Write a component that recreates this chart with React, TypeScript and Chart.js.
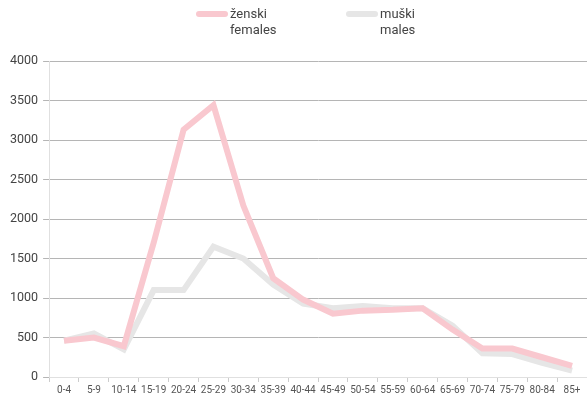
import React, { useEffect, useRef } from "react";
import { Chart, registerables } from "chart.js";

Chart.register(...registerables);

const categories = ["0-4","5-9","10-14","15-19","20-24","25-29","30-34","35-39","40-44","45-49","50-54","55-59","60-64","65-69","70-74","75-79","80-84","85+"];
const females = [460, 500, 390, 1700, 3130, 3440, 2170, 1250, 980, 800, 840, 850, 870, 600, 360, 360, 250, 140];
const males = [460, 550, 350, 1100, 1100, 1650, 1500, 1170, 930, 870, 900, 870, 870, 650, 300, 290, 180, 80];
const yTicks = [0, 500, 1000, 1500, 2000, 2500, 3000, 3500, 4000];
const legendFemale = ["ženski", "females"];
const legendMale = ["muški", "males"];

const PINK = "#f9c8cf";
const GREY = "#e6e6e6";
const FONT = "Roboto, 'Open Sans', sans-serif";

function LegendItem({ color, lines, left }: { color: string; lines: string[]; left: number }) {
  return (
    <div style={{ position: "absolute", left, top: 6, display: "flex", alignItems: "flex-start" }}>
      <div style={{ width: 32, height: 6, borderRadius: 3, background: color, marginTop: 5, marginRight: 2 }} />
      <div style={{ fontFamily: FONT, fontSize: 13, lineHeight: "16px", color: "#444" }}>
        {lines.map((l, i) => (
          <div key={i}>{l}</div>
        ))}
      </div>
    </div>
  );
}

export default function App() {
  const ref = useRef<HTMLCanvasElement | null>(null);
  useEffect(() => {
    document.body.style.margin = "0";
    const ctx = ref.current!.getContext("2d")!;
    const chart = new Chart(ctx, {
      type: "line",
      data: {
        labels: categories,
        datasets: [
          { label: "ženski females", data: females, borderColor: PINK, backgroundColor: PINK, borderWidth: 6, pointRadius: 0, tension: 0, fill: false },
          { label: "muški males", data: males, borderColor: GREY, backgroundColor: GREY, borderWidth: 6, pointRadius: 0, tension: 0, fill: false },
        ],
      },
      options: {
        animation: false,
        responsive: false,
        maintainAspectRatio: false,
        layout: { padding: { top: 61, left: 5, right: 0, bottom: -3 } },
        plugins: { legend: { display: false }, tooltip: { enabled: false } },
        scales: {
          x: {
            offset: true,
            grid: { offset: true, drawOnChartArea: false, drawTicks: true, tickLength: 5, color: "#cccccc" },
            border: { color: "#e0e0e0", width: 1 },
            ticks: { font: { family: FONT, size: 10 }, color: "#555", padding: 2, maxRotation: 0, autoSkip: false },
          },
          y: {
            min: 0,
            max: 4000,
            afterBuildTicks: (axis: any) => {
              axis.ticks = yTicks.map((v) => ({ value: v }));
            },
            grid: { color: "#b5b5b5", lineWidth: 1, tickLength: 6, drawTicks: true },
            border: { color: "#e0e0e0", width: 1 },
            ticks: { font: { family: FONT, size: 12.5 }, color: "#444", padding: 5, callback: (v: any) => String(v) },
          },
        },
      },
    });
    return () => chart.destroy();
  }, []);
  return (
    <div style={{ position: "relative", width: 587, height: 395 }}>
      <canvas ref={ref} width={587} height={395} style={{ display: "block" }} />
      <LegendItem color={PINK} lines={legendFemale} left={196} />
      <LegendItem color={GREY} lines={legendMale} left={346} />
    </div>
  );
}
